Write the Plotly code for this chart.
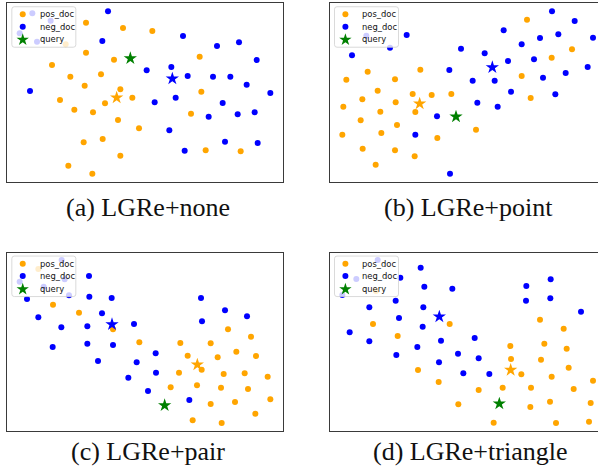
import math
import plotly.graph_objects as go

W, H = 598, 474

# ---------------- data (t-SNE style 2D embeddings) ----------------
# panel (a) LGRe+none
A_POS_X = [258, 369, 457, 197, 258, 342, 156, 599, 303, 211, 254, 361, 397, 180, 315, 223, 279, 604, 573, 354, 417, 308, 251, 617, 722, 361, 205, 277]
A_POS_Y = [68, 84, 93, 133, 158, 179, 195, 170, 223, 230, 257, 268, 293, 300, 310, 329, 337, 275, 341, 360, 385, 417, 427, 451, 454, 467, 497, 521]
A_NEG_X = [324, 152, 97, 59, 111, 307, 549, 651, 717, 770, 440, 514, 563, 639, 691, 740, 90, 811, 527, 464, 668, 626, 713, 764, 508, 675, 773, 554]
A_NEG_Y = [34, 62, 40, 100, 125, 123, 108, 138, 127, 180, 211, 201, 228, 230, 230, 254, 273, 279, 293, 307, 309, 350, 343, 337, 391, 425, 429, 452]
A_POS_CENTER = [350, 293]
A_NEG_CENTER = [517, 236]
A_QUERY = [391, 175]

# panel (b) LGRe+point
B_POS_X = [687, 822, 761, 209, 367, 145, 291, 671, 239, 344, 401, 460, 193, 293, 136, 247, 352, 698, 188, 297, 534, 133, 250, 418, 194, 291, 350, 233]
B_POS_Y = [59, 148, 173, 215, 209, 239, 238, 228, 272, 282, 285, 282, 298, 307, 320, 335, 336, 294, 361, 375, 389, 404, 399, 414, 446, 451, 469, 494]
B_NEG_X = [762, 830, 617, 326, 205, 726, 781, 885, 276, 489, 671, 560, 162, 630, 708, 454, 803, 869, 524, 590, 735, 639, 772, 538, 599, 417, 352, 456]
B_NEG_Y = [34, 63, 91, 105, 107, 114, 103, 113, 143, 146, 133, 160, 166, 183, 178, 210, 219, 201, 242, 242, 233, 275, 283, 308, 320, 349, 404, 521]
B_POS_CENTER = [365, 311]
B_NEG_CENTER = [583, 202]
B_QUERY = [474, 350]

# panel (c) LGRe+pair
C_POS_X = [115, 159, 237, 339, 684, 753, 418, 541, 632, 709, 563, 653, 768, 605, 537, 671, 734, 803, 512, 591, 663, 744, 632, 705, 811, 766, 578, 665]
C_POS_Y = [87, 194, 218, 268, 268, 290, 307, 309, 310, 335, 347, 352, 348, 389, 398, 402, 400, 410, 442, 436, 443, 447, 492, 486, 478, 521, 541, 549]
C_NEG_X = [185, 267, 194, 59, 131, 207, 81, 268, 335, 603, 306, 675, 741, 115, 184, 262, 402, 606, 158, 262, 339, 467, 294, 410, 385, 468, 444, 568]
C_NEG_Y = [60, 108, 118, 125, 140, 166, 177, 170, 174, 174, 220, 211, 229, 232, 262, 259, 252, 244, 321, 311, 315, 340, 363, 367, 413, 398, 453, 480]
C_POS_CENTER = [592, 374]
C_NEG_CENTER = [336, 253]
C_QUERY = [494, 496]

# panel (d) LGRe+triangle
D_POS_X = [234, 225, 455, 299, 726, 797, 637, 739, 806, 639, 729, 360, 812, 670, 761, 422, 885, 614, 699, 542, 827, 756, 481, 697, 878, 587, 774, 873]
D_POS_Y = [153, 252, 252, 288, 239, 266, 318, 311, 326, 357, 359, 390, 383, 403, 410, 426, 422, 443, 443, 450, 447, 485, 493, 501, 489, 548, 549, 545]
D_NEG_X = [239, 368, 175, 307, 379, 463, 685, 758, 133, 293, 684, 757, 214, 376, 849, 303, 374, 155, 214, 429, 530, 358, 295, 480, 542, 423, 496, 574]
D_NEG_Y = [60, 83, 117, 113, 140, 146, 138, 118, 165, 182, 182, 175, 202, 202, 215, 234, 260, 277, 304, 302, 294, 321, 345, 341, 355, 367, 400, 402]
D_POS_CENTER = [638, 390]
D_NEG_CENTER = [424, 230]
D_QUERY = [604, 491]

CAPTIONS = ["(a) LGRe+none", "(b) LGRe+point", "(c) LGRe+pair", "(d) LGRe+triangle"]
LEGEND_LABELS = ["pos_doc", "neg_doc", "query"]

ORANGE = "#FFA500"
BLUE = "#0000FF"
GREEN = "#008000"

panels = [
    (A_POS_X, A_POS_Y, A_NEG_X, A_NEG_Y, A_POS_CENTER, A_NEG_CENTER, A_QUERY),
    (B_POS_X, B_POS_Y, B_NEG_X, B_NEG_Y, B_POS_CENTER, B_NEG_CENTER, B_QUERY),
    (C_POS_X, C_POS_Y, C_NEG_X, C_NEG_Y, C_POS_CENTER, C_NEG_CENTER, C_QUERY),
    (D_POS_X, D_POS_Y, D_NEG_X, D_NEG_Y, D_POS_CENTER, D_NEG_CENTER, D_QUERY),
]

# ---------------- layout geometry (pixels) ----------------
boxes = [
    dict(l=22 / 3, t=10 / 3, r=850 / 3, b=546 / 3, xr=[22, 850], yr=[546, 10], mirror_y=True),
    dict(l=330, t=10 / 3, r=598, b=546 / 3, xr=[96, 900], yr=[546, 10], mirror_y=False),
    dict(l=22 / 3, t=240 + 38 / 3, r=850 / 3, b=240 + 574 / 3, xr=[22, 850], yr=[574, 38], mirror_y=True),
    dict(l=330, t=240 + 38 / 3, r=598, b=240 + 574 / 3, xr=[96, 900], yr=[574, 38], mirror_y=False),
]
caption_pos = [(147.5, 207.5), (468, 207.5), (148, 451.5), (469.5, 451.5)]


def px(x):
    return x / W


def py(y):
    return 1 - y / H


fig = go.Figure()
layout = dict(
    width=W, height=H, margin=dict(l=0, r=0, t=0, b=0),
    paper_bgcolor="white", plot_bgcolor="white", showlegend=False,
)
shapes = []
annotations = []

for i, (pxs, pys, nxs, nys, pc, nc, q) in enumerate(panels):
    k = "" if i == 0 else str(i + 1)
    xa, ya = "x" + k, "y" + k
    bx = boxes[i]
    common = dict(showgrid=False, zeroline=False, showticklabels=False, ticks="",
                  showline=True, linecolor="#3a3a3a", linewidth=1)
    layout["xaxis" + k] = dict(domain=[px(bx["l"]), px(bx["r"])], range=bx["xr"], anchor=ya,
                               mirror=True, **common)
    layout["yaxis" + k] = dict(domain=[py(bx["b"]), py(bx["t"])], range=bx["yr"], anchor=xa,
                               mirror=bx["mirror_y"], **common)

    fig.add_trace(go.Scatter(x=pxs, y=pys, mode="markers", xaxis=xa, yaxis=ya, name="pos_doc",
                             marker=dict(color=ORANGE, size=6, line=dict(width=0))))
    fig.add_trace(go.Scatter(x=nxs, y=nys, mode="markers", xaxis=xa, yaxis=ya, name="neg_doc",
                             marker=dict(color=BLUE, size=6, line=dict(width=0))))
    fig.add_trace(go.Scatter(x=[pc[0]], y=[pc[1]], mode="markers", xaxis=xa, yaxis=ya,
                             marker=dict(color=ORANGE, size=10, symbol="star", line=dict(width=0))))
    fig.add_trace(go.Scatter(x=[nc[0]], y=[nc[1]], mode="markers", xaxis=xa, yaxis=ya,
                             marker=dict(color=BLUE, size=10, symbol="star", line=dict(width=0))))
    fig.add_trace(go.Scatter(x=[q[0]], y=[q[1]], mode="markers", xaxis=xa, yaxis=ya, name="query",
                             marker=dict(color=GREEN, size=10, symbol="star", line=dict(width=0))))

    # ---- legend box (matplotlib-like, semi-transparent) ----
    L = bx["l"] + 4.5
    T = bx["t"] + 3.4
    R = L + 64
    B = T + 40.5
    rr = 2.5
    path = (f"M {px(L + rr)} {py(T)} L {px(R - rr)} {py(T)} Q {px(R)} {py(T)} {px(R)} {py(T + rr)} "
            f"L {px(R)} {py(B - rr)} Q {px(R)} {py(B)} {px(R - rr)} {py(B)} "
            f"L {px(L + rr)} {py(B)} Q {px(L)} {py(B)} {px(L)} {py(B - rr)} "
            f"L {px(L)} {py(T + rr)} Q {px(L)} {py(T)} {px(L + rr)} {py(T)} Z")
    shapes.append(dict(type="path", xref="paper", yref="paper", path=path, layer="above",
                       fillcolor="rgba(255,255,255,0.8)", line=dict(color="#d0d0d0", width=0.8)))
    mx = bx["l"] + 15.4
    item_y = [bx["t"] + 11, bx["t"] + 23.4, bx["t"] + 36]
    for j, col in enumerate([ORANGE, BLUE]):
        shapes.append(dict(type="circle", xref="paper", yref="paper", layer="above",
                           xsizemode="pixel", ysizemode="pixel",
                           xanchor=px(mx), yanchor=py(item_y[j]),
                           x0=-3, x1=3, y0=-3, y1=3, fillcolor=col, line=dict(width=0)))
    Ro, Ri = 6.5, 6.5 * 0.382
    pts = []
    for m in range(10):
        ang = math.pi / 2 + m * math.pi / 5
        rad = Ro if m % 2 == 0 else Ri
        pts.append((rad * math.cos(ang), rad * math.sin(ang)))
    spath = "M " + " L ".join(f"{a:.2f} {b:.2f}" for a, b in pts) + " Z"
    shapes.append(dict(type="path", xref="paper", yref="paper", layer="above",
                       xsizemode="pixel", ysizemode="pixel",
                       xanchor=px(mx), yanchor=py(item_y[2] + 0.5),
                       path=spath, fillcolor=GREEN, line=dict(width=0)))
    for j, lab in enumerate(LEGEND_LABELS):
        annotations.append(dict(xref="paper", yref="paper", x=px(bx["l"] + 30.4), y=py(item_y[j]),
                                text=lab, showarrow=False, xanchor="left", yanchor="middle",
                                font=dict(family="DejaVu Sans", size=8.4, color="#111111")))

    cx, cy = caption_pos[i]
    annotations.append(dict(xref="paper", yref="paper", x=px(cx), y=py(cy), text=CAPTIONS[i],
                            showarrow=False, xanchor="center", yanchor="middle",
                            font=dict(family="Liberation Serif", size=26, color="#111111")))

layout["shapes"] = shapes
layout["annotations"] = annotations
fig.update_layout(**layout)
fig.write_html("out.html", config={"displayModeBar": False},
               post_script="document.body.style.margin='0';document.body.style.overflow='hidden';")
